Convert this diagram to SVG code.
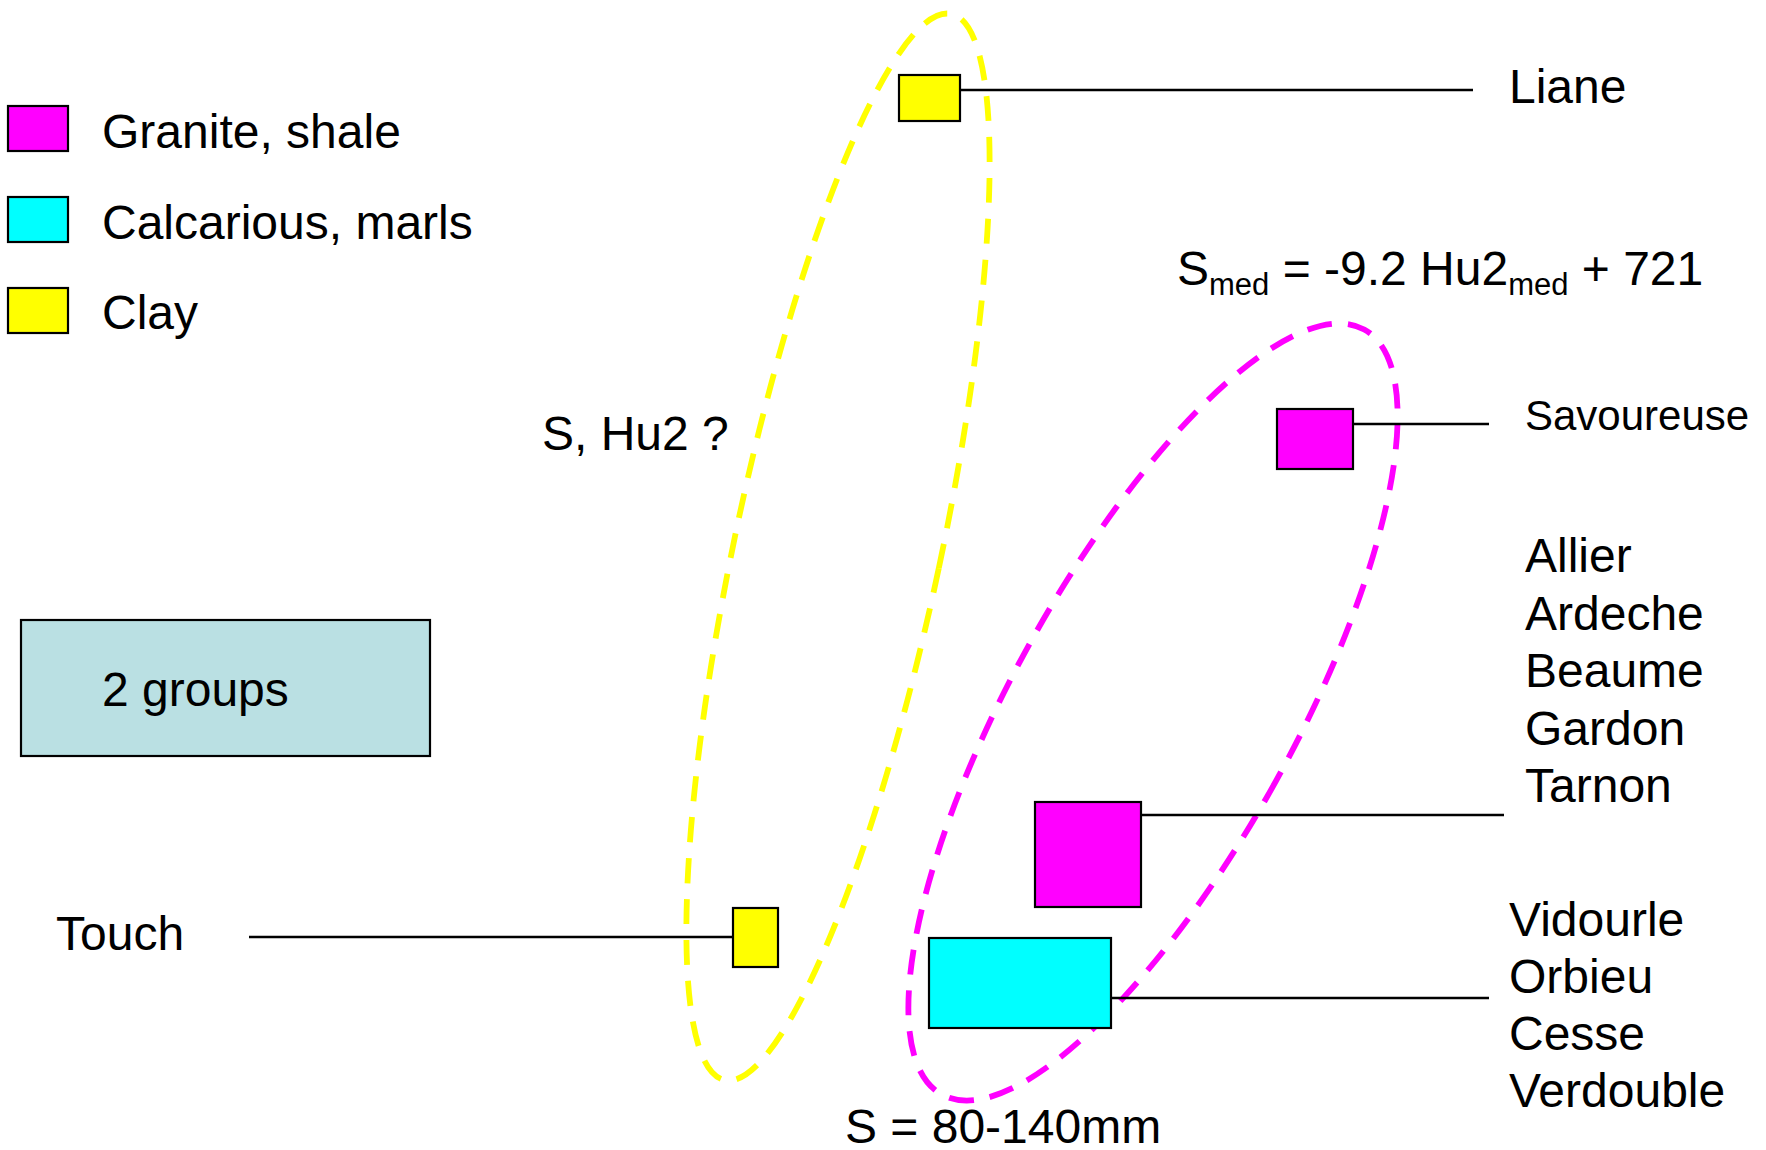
<svg xmlns="http://www.w3.org/2000/svg" width="1766" height="1150" viewBox="0 0 1766 1150">
<style>
text{font-family:"Liberation Sans",Arial,sans-serif;font-size:48px;fill:#000}
.box{stroke:#000;stroke-width:2.2}
.mag{fill:#FF00FF}
.cy{fill:#00FFFF}
.ye{fill:#FFFF00}
.conn{stroke:#000;stroke-width:2.6;fill:none}
.dash{fill:none;stroke-width:5.8;stroke-dasharray:25 16}
.sub{font-size:31px}
</style>
<rect width="1766" height="1150" fill="#fff"/>
<g id="legend">
<rect class="box mag" x="8" y="106" width="60" height="45"/>
<rect class="box cy" x="8" y="197" width="60" height="45"/>
<rect class="box ye" x="8" y="288" width="60" height="45"/>
<text x="102" y="148">Granite, shale</text>
<text x="102" y="239">Calcarious, marls</text>
<text x="102" y="329">Clay</text>
</g>
<g id="groups-box">
<rect x="21" y="620" width="409" height="136" fill="#BAE0E3" stroke="#000" stroke-width="2.2"/>
<text x="102" y="706">2 groups</text>
</g>
<g id="ellipses">
<ellipse class="dash" stroke="#FFFF00" cx="838" cy="547" rx="103" ry="545" transform="rotate(12 838 547)"/>
<ellipse class="dash" stroke="#FF00FF" cx="1153" cy="712" rx="141" ry="437" transform="rotate(28.9 1153 712)"/>
</g>
<g id="connectors">
<line class="conn" x1="960" y1="90" x2="1473" y2="90"/>
<line class="conn" x1="1353" y1="424" x2="1489" y2="424"/>
<line class="conn" x1="1141" y1="815" x2="1504" y2="815"/>
<line class="conn" x1="1111" y1="998" x2="1489" y2="998"/>
<line class="conn" x1="249" y1="937" x2="733" y2="937"/>
</g>
<g id="liane">
<rect class="box ye" x="899" y="75" width="61" height="46"/>
<text x="1509" y="103">Liane</text>
</g>
<g id="savoureuse">
<rect class="box mag" x="1277" y="409" width="76" height="60"/>
<text x="1525" y="430" style="font-size:42px">Savoureuse</text>
</g>
<g id="allier-group">
<rect class="box mag" x="1035" y="802" width="106" height="105"/>
<text x="1525" y="572">Allier</text>
<text x="1525" y="630">Ardeche</text>
<text x="1525" y="687">Beaume</text>
<text x="1525" y="745">Gardon</text>
<text x="1525" y="802">Tarnon</text>
</g>
<g id="vidourle-group">
<rect class="box cy" x="929" y="938" width="182" height="90"/>
<text x="1509" y="936">Vidourle</text>
<text x="1509" y="993">Orbieu</text>
<text x="1509" y="1050">Cesse</text>
<text x="1509" y="1107">Verdouble</text>
</g>
<g id="touch">
<rect class="box ye" x="733" y="908" width="45" height="59"/>
<text x="56" y="950">Touch</text>
</g>
<g id="labels">
<text x="542" y="450">S, Hu2 ?</text>
<text x="1177" y="285">S<tspan class="sub" dy="10">med</tspan><tspan dy="-10"> = -9.2 Hu2</tspan><tspan class="sub" dy="10">med</tspan><tspan dy="-10"> + 721</tspan></text>
<text x="845" y="1143">S = 80-140mm</text>
</g>
</svg>
